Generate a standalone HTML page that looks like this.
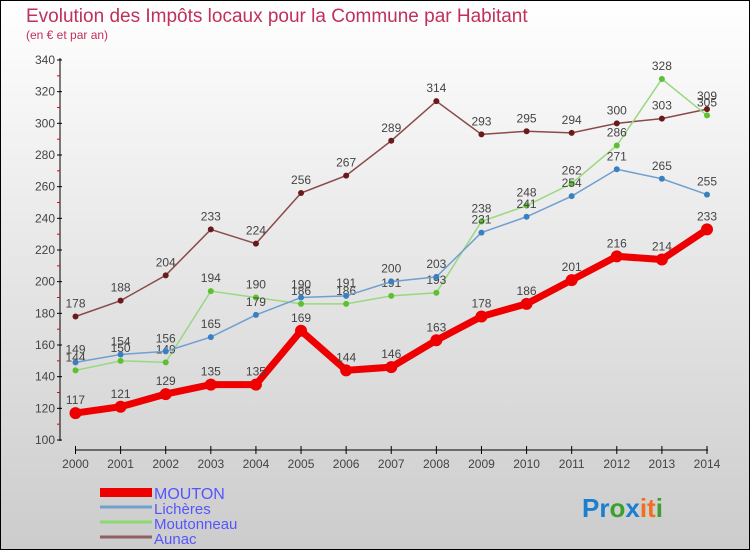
<!DOCTYPE html>
<html><head><meta charset="utf-8"><style>
body{margin:0;width:750px;height:550px;overflow:hidden;font-family:"Liberation Sans",sans-serif}
</style></head><body>
<svg id="chart" width="750" height="550" xmlns="http://www.w3.org/2000/svg" font-family="Liberation Sans, sans-serif">
<defs><linearGradient id="bg" x1="0" y1="0" x2="0" y2="1"><stop offset="0" stop-color="#ffffff"/><stop offset="1" stop-color="#cccccc"/></linearGradient></defs>
<rect x="0.5" y="0.5" width="749" height="549" fill="url(#bg)" stroke="#000"/>
<text x="26" y="22" font-size="19" fill="#c0305a">Evolution des Impôts locaux pour la Commune par Habitant</text>
<text x="26" y="39" font-size="12" fill="#c0305a">(en € et par an)</text>
<g id="axes"></g><g id="series"></g>
<g>
<rect x="100" y="488" width="52" height="9" fill="#e00"/>
<text x="154" y="499" font-size="16" fill="#5555ff">MOUTON</text>
<line x1="100" y1="507" x2="152" y2="507" stroke="#6fa0d0" stroke-width="3"/>
<text x="154" y="514" font-size="15" fill="#5555ff">Lichères</text>
<line x1="100" y1="522" x2="152" y2="522" stroke="#8fd870" stroke-width="3"/>
<text x="154" y="529" font-size="15" fill="#5555ff">Moutonneau</text>
<line x1="100" y1="537" x2="152" y2="537" stroke="#906060" stroke-width="3"/>
<text x="154" y="544" font-size="15" fill="#5555ff">Aunac</text>
</g>
<text x="582" y="517" font-size="26" font-weight="bold"><tspan fill="#1a7fd0">Pr</tspan><tspan fill="#3aa030">o</tspan><tspan fill="#1a7fd0">x</tspan><tspan fill="#f07020">it</tspan><tspan fill="#3aa030">i</tspan></text>
</svg>
<script>
const years=[2000,2001,2002,2003,2004,2005,2006,2007,2008,2009,2010,2011,2012,2013,2014];
const mouton=[117,121,129,135,135,169,144,146,163,178,186,201,216,214,233];
const licheres=[149,154,156,165,179,190,191,200,203,231,241,254,271,265,255];
const moutonneau=[144,150,149,194,190,186,186,191,193,238,248,262,286,328,305];
const aunac=[178,188,204,233,224,256,267,289,314,293,295,294,300,303,309];
const yTicks=[100,120,140,160,180,200,220,240,260,280,300,320,340];
const NS="http://www.w3.org/2000/svg";
const X=i=>75.5+i*(707-75.5)/(years.length-1);
const Y=v=>440-(v-100)*(380/240);
function mk(t,a,p){const e=document.createElementNS(NS,t);for(const k in a)e.setAttribute(k,a[k]);p.appendChild(e);return e;}
const ax=document.getElementById('axes');
const yl=mk('line',{x1:60,y1:58,x2:60,y2:441,stroke:'#000'},ax);


const xl=mk('line',{x1:75,y1:450,x2:708,y2:450,stroke:'#000'},ax);


yTicks.forEach((v,i)=>{
 mk('line',{x1:57,y1:Y(v),x2:62,y2:Y(v),stroke:'#000'},ax);
 if(i<yTicks.length-1)mk('line',{x1:57,y1:Y(v+10),x2:60,y2:Y(v+10),stroke:'#e00'},ax);
 const t=mk('text',{x:55,y:Y(v)+4,'font-size':12,'text-anchor':'end',fill:'#444'},ax);
 t.textContent=v;
 
 
});
years.forEach((y,i)=>{
 mk('line',{x1:X(i),y1:446,x2:X(i),y2:454,stroke:'#000'},ax);
 const t=mk('text',{x:X(i),y:468,'font-size':12,'text-anchor':'middle',fill:'#444'},ax);
 t.textContent=y;
 
 
});
const sg=document.getElementById('series');
function series(data,name,col,dot,w,r){
 const g=mk('g',{},sg);
 
 
 const p=mk('polyline',{points:data.map((v,i)=>X(i)+','+Y(v)).join(' '),fill:'none',stroke:col,'stroke-width':w},g);
 
 
 data.forEach((v,i)=>{
  const c=mk('circle',{cx:X(i),cy:Y(v),r:r,fill:dot},g);
  
  
  const t=mk('text',{x:X(i),y:Y(v)-9,'font-size':12,'text-anchor':'middle',fill:'#444'},g);
  t.textContent=v;
  
  
 });
}
series(aunac,'aunac','#8a4a4a','#6a1a1a',1.5,3);
series(moutonneau,'moutonneau','#9ad880','#5cc030',1.5,3);
series(licheres,'licheres','#6fa0d0','#3a80c0',1.5,3);
series(mouton,'mouton','#ee0000','#ee0000',7,6);
</script>
</body></html>
